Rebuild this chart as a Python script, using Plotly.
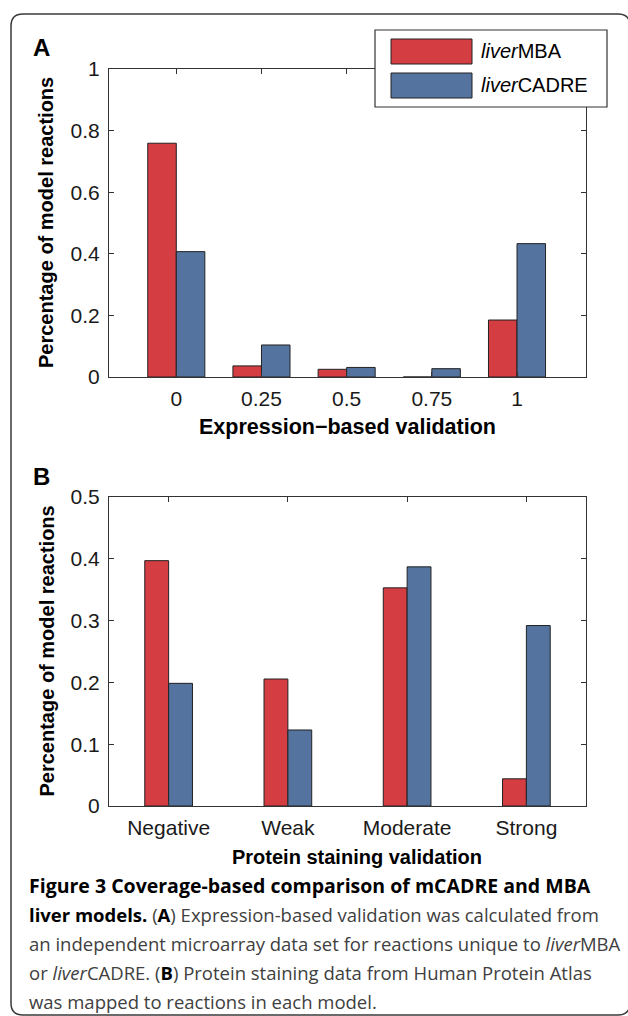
import plotly.graph_objects as go

# ---------------- data ----------------
series_names = ["<i>liver</i>MBA", "<i>liver</i>CADRE"]
a_categories = ["0", "0.25", "0.5", "0.75", "1"]
a_mba = [0.759, 0.036, 0.025, 0.0, 0.185]
a_cadre = [0.407, 0.104, 0.031, 0.027, 0.433]
a_yticks = [0, 0.2, 0.4, 0.6, 0.8, 1]

b_categories = ["Negative", "Weak", "Moderate", "Strong"]
b_mba = [0.397, 0.2055, 0.353, 0.044]
b_cadre = [0.1985, 0.123, 0.387, 0.292]
b_yticks = [0, 0.1, 0.2, 0.3, 0.4, 0.5]

a_xtitle = "Expression\u2212based validation"
b_xtitle = "Protein staining validation"
ytitle = "Percentage of model reactions"
BK = '<span style="color:#000000"><b>%s</b></span>'
caption_lines = [
    BK % "Figure 3 Coverage-based comparison of mCADRE and MBA",
    BK % "liver models." + " (" + BK % "A" + ") Expression-based validation was calculated from",
    "an independent microarray data set for reactions unique to <i>liver</i>MBA",
    "or <i>liver</i>CADRE. (" + BK % "B" + ") Protein staining data from Human Protein Atlas",
    "was mapped to reactions in each model.",
]
caption_sizes = [19.5, 18.5, 18.5, 18.5, 18.5]

# ---------------- layout helpers ----------------
W, H = 628, 1016
def px(x):
    return x / W
def py(y):
    return 1 - y / H

RED = "#d43d42"
BLUE = "#54739e"
EDGE = "#222222"
AXC = "#333333"
FONT = "Liberation Sans, Arial, sans-serif"
TICKSIZE = 21

fig = go.Figure()

wa = 0.335
fig.add_trace(go.Bar(x=a_categories, y=a_mba, name=series_names[0], width=wa, offset=-wa,
                     marker=dict(color=RED, line=dict(color=EDGE, width=1)),
                     xaxis="x", yaxis="y", showlegend=False))
fig.add_trace(go.Bar(x=a_categories, y=a_cadre, name=series_names[1], width=wa, offset=0,
                     marker=dict(color=BLUE, line=dict(color=EDGE, width=1)),
                     xaxis="x", yaxis="y", showlegend=False))
wb = 0.2
fig.add_trace(go.Bar(x=b_categories, y=b_mba, name=series_names[0], width=wb, offset=-wb,
                     marker=dict(color=RED, line=dict(color=EDGE, width=1)),
                     xaxis="x2", yaxis="y2", showlegend=False))
fig.add_trace(go.Bar(x=b_categories, y=b_cadre, name=series_names[1], width=wb, offset=0,
                     marker=dict(color=BLUE, line=dict(color=EDGE, width=1)),
                     xaxis="x2", yaxis="y2", showlegend=False))

axis_common = dict(showline=True, linecolor=AXC, linewidth=1.2, mirror="ticks",
                   ticks="inside", ticklen=5, tickcolor=AXC, tickwidth=1.2,
                   showgrid=False, zeroline=False, automargin=False,
                   tickfont=dict(family=FONT, size=TICKSIZE, color="#1a1a1a"))

xdom = [px(109), px(586)]
fig.update_layout(
    width=W, height=H,
    margin=dict(l=0, r=0, t=0, b=0, pad=0, autoexpand=False),
    paper_bgcolor="white", plot_bgcolor="white",
    barmode="overlay",
    xaxis=dict(domain=xdom, anchor="y", type="category", categoryorder="array",
               categoryarray=a_categories, range=[-0.79, 4.81], ticklabelstandoff=3,
               **axis_common),
    yaxis=dict(domain=[py(377), py(69)], anchor="x", range=[0, 1], tickvals=a_yticks,
               ticklabelstandoff=4, **axis_common),
    xaxis2=dict(domain=xdom, anchor="y2", type="category", categoryorder="array",
                categoryarray=b_categories, range=[-0.5, 3.5], ticklabelstandoff=3,
                **axis_common),
    yaxis2=dict(domain=[py(806), py(497)], anchor="x2", range=[0, 0.5], tickvals=b_yticks,
                ticklabelstandoff=4, **axis_common),
)

def note(x, y, text, size, xanchor="left", angle=0, family=FONT, color="black"):
    return dict(x=px(x), y=py(y), xref="paper", yref="paper", text=text, showarrow=False,
                xanchor=xanchor, yanchor="middle", textangle=angle, borderpad=0,
                font=dict(family=family, size=size, color=color))

ann = []
ann.append(note(32, 47, "<b>A</b>", 24))
ann.append(note(32, 476, "<b>B</b>", 24))
for yc in [(69 + 377) / 2, (497 + 806) / 2]:
    ann.append(note(46, yc, "<b>" + ytitle + "</b>", 20, xanchor="center", angle=-90))
ann.append(note(347, 427, "<b>" + a_xtitle + "</b>", 21.5, xanchor="center"))
ann.append(note(357, 857, "<b>" + b_xtitle + "</b>", 20, xanchor="center"))
for name, yc in zip(series_names, [51, 85]):
    ann.append(note(480, yc, name, 20))
for i, line in enumerate(caption_lines):
    ann.append(note(28, 885 + 29 * i, line, caption_sizes[i], family="Open Sans",
                    color="#404040"))

shapes = []
x0, y0, x1, y1, r = 11, 14, 630, 1015, 12
path = (f"M {px(x0)},{py(y1 - r)} L {px(x0)},{py(y0 + r)} "
        f"Q {px(x0)},{py(y0)} {px(x0 + r)},{py(y0)} L {px(x1 - r)},{py(y0)} "
        f"Q {px(x1)},{py(y0)} {px(x1)},{py(y0 + r)} L {px(x1)},{py(y1 - r)} "
        f"Q {px(x1)},{py(y1)} {px(x1 - r)},{py(y1)} L {px(x0 + r)},{py(y1)} "
        f"Q {px(x0)},{py(y1)} {px(x0)},{py(y1 - r)} Z")
shapes.append(dict(type="path", path=path, xref="paper", yref="paper",
                   line=dict(color="#3a3a3a", width=1.5), layer="above"))
shapes.append(dict(type="rect", xref="paper", yref="paper", x0=px(375), x1=px(607),
                   y0=py(107), y1=py(30), fillcolor="white",
                   line=dict(color=AXC, width=1.2), layer="above"))
for col, (ya, yb) in zip([RED, BLUE], [(39, 64), (73, 98)]):
    shapes.append(dict(type="rect", xref="paper", yref="paper", x0=px(391), x1=px(472),
                       y0=py(yb), y1=py(ya), fillcolor=col,
                       line=dict(color=EDGE, width=1), layer="above"))

fig.update_layout(annotations=ann, shapes=shapes)
fig.write_html("out.html", config={"displayModeBar": False},
               post_script="document.body.style.margin='0';document.body.style.padding='0';"
                           "document.documentElement.style.overflow='hidden';")
